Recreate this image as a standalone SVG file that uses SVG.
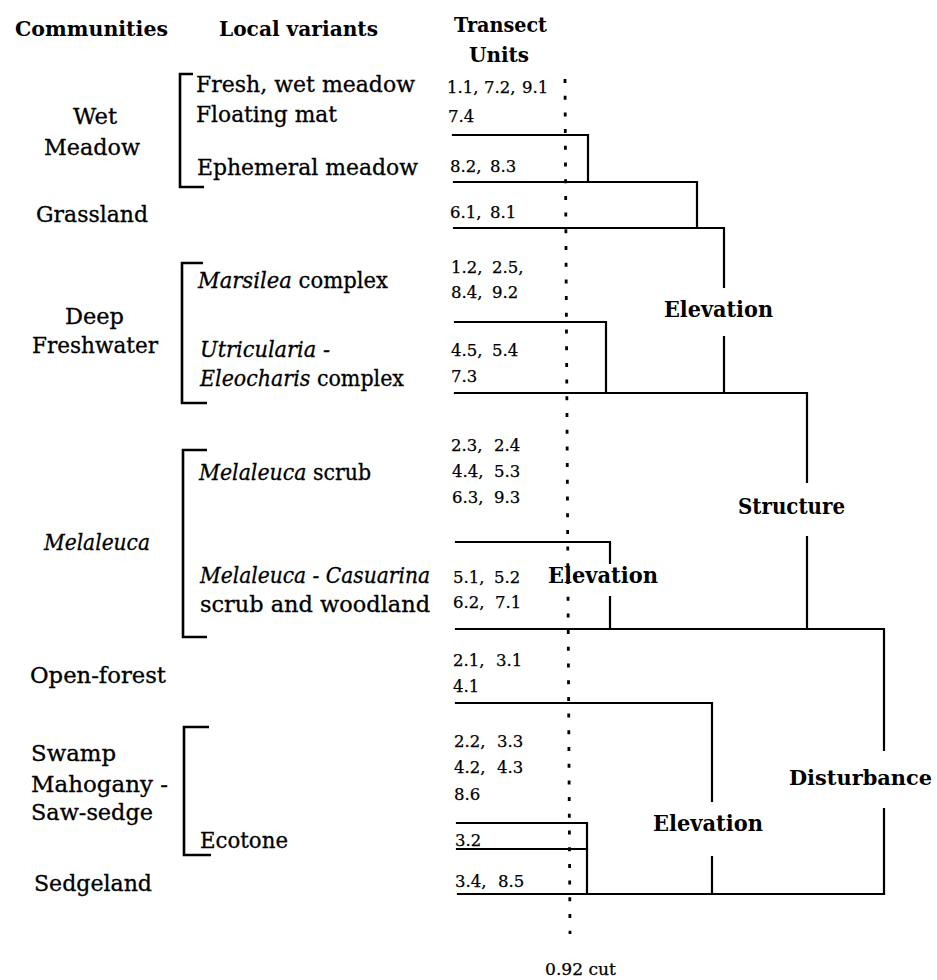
<svg xmlns="http://www.w3.org/2000/svg" width="937" height="980" viewBox="0 0 937 980">
<style>
text{font-family:"DejaVu Serif","Liberation Serif",serif;fill:#000}
.hdr{font-weight:bold;font-size:21px}
.lbl{font-size:21.5px;stroke:#000;stroke-width:0.3}
.it{font-style:italic}
.num{font-size:16.5px;stroke:#000;stroke-width:0.25}
.fac{font-weight:bold;font-size:22px}
.ln{stroke:#000;stroke-width:2.2;fill:none;stroke-linecap:square}
.br{stroke:#000;stroke-width:2.6;fill:none}
.cut{stroke:#000;stroke-width:2.8;fill:none;stroke-dasharray:4 12.7}
</style>
<rect width="937" height="980" fill="#fff"/>
<g id="headers">
<text class="hdr" x="15" y="36" textLength="153" lengthAdjust="spacingAndGlyphs">Communities</text>
<text class="hdr" x="219" y="36" textLength="159" lengthAdjust="spacingAndGlyphs">Local variants</text>
<text class="hdr" x="454" y="32" textLength="93" lengthAdjust="spacingAndGlyphs">Transect</text>
<text class="hdr" x="469" y="62" textLength="60" lengthAdjust="spacingAndGlyphs">Units</text>
</g>
<g id="communities">
<g id="c-wet-meadow">
<text class="lbl" x="73" y="124" textLength="44" lengthAdjust="spacingAndGlyphs">Wet</text>
<text class="lbl" x="44" y="155" textLength="96" lengthAdjust="spacingAndGlyphs">Meadow</text>
</g>
<g id="c-grassland"><text class="lbl" x="36" y="222" textLength="112" lengthAdjust="spacingAndGlyphs">Grassland</text></g>
<g id="c-deep-freshwater">
<text class="lbl" x="65" y="324" textLength="59" lengthAdjust="spacingAndGlyphs">Deep</text>
<text class="lbl" x="32" y="353" textLength="126" lengthAdjust="spacingAndGlyphs">Freshwater</text>
</g>
<g id="c-melaleuca"><text class="lbl it" x="44" y="550" textLength="106" lengthAdjust="spacingAndGlyphs">Melaleuca</text></g>
<g id="c-open-forest"><text class="lbl" x="30" y="683" textLength="136" lengthAdjust="spacingAndGlyphs">Open-forest</text></g>
<g id="c-swamp-mahogany">
<text class="lbl" x="31" y="761" textLength="85" lengthAdjust="spacingAndGlyphs">Swamp</text>
<text class="lbl" x="31" y="792" textLength="137" lengthAdjust="spacingAndGlyphs">Mahogany -</text>
<text class="lbl" x="31" y="820" textLength="122" lengthAdjust="spacingAndGlyphs">Saw-sedge</text>
</g>
<g id="c-sedgeland"><text class="lbl" x="34" y="891" textLength="118" lengthAdjust="spacingAndGlyphs">Sedgeland</text></g>
</g>
<g id="variants">
<g id="v-fresh"><text class="lbl" x="196" y="92" textLength="219" lengthAdjust="spacingAndGlyphs">Fresh, wet meadow</text></g>
<g id="v-floating"><text class="lbl" x="196" y="122" textLength="141" lengthAdjust="spacingAndGlyphs">Floating mat</text></g>
<g id="v-ephemeral"><text class="lbl" x="197" y="175" textLength="221" lengthAdjust="spacingAndGlyphs">Ephemeral meadow</text></g>
<g id="v-marsilea"><text class="lbl" x="198" y="288" textLength="190" lengthAdjust="spacingAndGlyphs"><tspan class="it">Marsilea</tspan> complex</text></g>
<g id="v-utricularia">
<text class="lbl it" x="200" y="357" textLength="130" lengthAdjust="spacingAndGlyphs">Utricularia -</text>
<text class="lbl" x="200" y="386" textLength="204" lengthAdjust="spacingAndGlyphs"><tspan class="it">Eleocharis</tspan> complex</text>
</g>
<g id="v-melaleuca-scrub"><text class="lbl" x="199" y="480" textLength="172" lengthAdjust="spacingAndGlyphs"><tspan class="it">Melaleuca</tspan> scrub</text></g>
<g id="v-melaleuca-casuarina">
<text class="lbl it" x="200" y="583" textLength="230" lengthAdjust="spacingAndGlyphs">Melaleuca - Casuarina</text>
<text class="lbl" x="200" y="612" textLength="230" lengthAdjust="spacingAndGlyphs">scrub and woodland</text>
</g>
<g id="v-ecotone"><text class="lbl" x="200" y="848" textLength="88" lengthAdjust="spacingAndGlyphs">Ecotone</text></g>
</g>
<g id="units">
<text class="num" y="93"><tspan x="447">1.1,</tspan><tspan x="484">7.2,</tspan><tspan x="522">9.1</tspan></text>
<text class="num" x="448" y="122">7.4</text>
<text class="num" y="172"><tspan x="450">8.2,</tspan><tspan x="490">8.3</tspan></text>
<text class="num" y="218"><tspan x="450">6.1,</tspan><tspan x="490">8.1</tspan></text>
<text class="num" y="273"><tspan x="451">1.2,</tspan><tspan x="492">2.5,</tspan></text>
<text class="num" y="298"><tspan x="451">8.4,</tspan><tspan x="492">9.2</tspan></text>
<text class="num" y="356"><tspan x="451">4.5,</tspan><tspan x="492">5.4</tspan></text>
<text class="num" x="451" y="382">7.3</text>
<text class="num" y="451"><tspan x="451">2.3,</tspan><tspan x="494">2.4</tspan></text>
<text class="num" y="477"><tspan x="452">4.4,</tspan><tspan x="494">5.3</tspan></text>
<text class="num" y="503"><tspan x="452">6.3,</tspan><tspan x="494">9.3</tspan></text>
<text class="num" y="583"><tspan x="453">5.1,</tspan><tspan x="494">5.2</tspan></text>
<text class="num" y="608"><tspan x="453">6.2,</tspan><tspan x="495">7.1</tspan></text>
<text class="num" y="666"><tspan x="453">2.1,</tspan><tspan x="496">3.1</tspan></text>
<text class="num" x="453" y="692">4.1</text>
<text class="num" y="747"><tspan x="454">2.2,</tspan><tspan x="497">3.3</tspan></text>
<text class="num" y="773"><tspan x="454">4.2,</tspan><tspan x="497">4.3</tspan></text>
<text class="num" x="454" y="800">8.6</text>
<text class="num" x="455" y="846">3.2</text>
<text class="num" y="887"><tspan x="455">3.4,</tspan><tspan x="498">8.5</tspan></text>
</g>
<g id="factors">
<text class="fac" x="664" y="317" textLength="109" lengthAdjust="spacingAndGlyphs">Elevation</text>
<text class="fac" x="738" y="514" textLength="107" lengthAdjust="spacingAndGlyphs">Structure</text>
<text class="fac" x="548" y="583" textLength="110" lengthAdjust="spacingAndGlyphs">Elevation</text>
<text class="fac" x="789" y="785" style="font-size:20px" textLength="143" lengthAdjust="spacingAndGlyphs">Disturbance</text>
<text class="fac" x="653" y="831" textLength="110" lengthAdjust="spacingAndGlyphs">Elevation</text>
</g>
<g id="connectors">
<path class="br" d="M193,74 H180 V187 H204"/>
<path class="br" d="M203,263 H182 V403 H207"/>
<path class="br" d="M207,450 H183 V637 H207"/>
<path class="br" d="M209,727 H184 V855 H211"/>
<path class="ln" d="M453,135 H588 V182"/>
<path class="ln" d="M454,182 H697 V228"/>
<path class="ln" d="M454,228 H724 V287 M724,337 V393"/>
<path class="ln" d="M455,322 H606 V393"/>
<path class="ln" d="M455,393 H807 V482 M807,537 V629"/>
<path class="ln" d="M456,542 H610 V563 M610,597 V629"/>
<path class="ln" d="M456,629 H884 V750 M884,809 V894"/>
<path class="ln" d="M456,703 H712 V801 M712,857 V894"/>
<path class="ln" d="M457,823 H587 V894"/>
<path class="ln" d="M457,849 H587"/>
<path class="ln" d="M458,894 H884"/>
</g>
<g id="cut">
<path class="cut" d="M565,79 L570,934"/>
<text class="num" x="545" y="975" textLength="71" lengthAdjust="spacingAndGlyphs">0.92 cut</text>
</g>
</svg>
